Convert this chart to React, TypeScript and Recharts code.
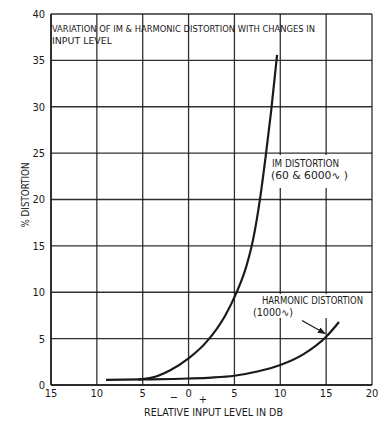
import React from 'react';
import { LineChart, Line, XAxis, YAxis, CartesianGrid } from 'recharts';

const FONT = "'DejaVu Sans Condensed', 'Liberation Sans Narrow', 'Arial Narrow', 'DejaVu Sans', sans-serif";

// IM distortion (60 & 6000~): relative input level (dB) vs % distortion
const imLevel = [-5.5, -4, -2, 0, 2, 4, 5.2, 6.3, 7.1, 7.75, 8.4, 9.0, 9.65];
const imPct = [0.6, 0.8, 1.6, 2.87, 4.7, 7.5, 9.9, 12.8, 16, 19.8, 24.6, 29.5, 35.6];

// Harmonic distortion (1000~)
const harmLevel = [-9, -5, 0, 2.5, 5, 7.5, 10, 12.5, 15, 16.4];
const harmPct = [0.55, 0.6, 0.7, 0.8, 1.0, 1.45, 2.15, 3.3, 5.2, 6.8];

const xTicks = [-15, -10, -5, 0, 5, 10, 15, 20];
const yTicks = [0, 5, 10, 15, 20, 25, 30, 35, 40];

const imData = imLevel.map((x, i) => ({ x, y: imPct[i] }));
const harmData = harmLevel.map((x, i) => ({ x, y: harmPct[i] }));

const INK = '#1a1a1a';

export default function App() {
  return (
    <div style={{ position: 'absolute', left: 0, top: 0, width: 387, height: 424, background: '#fff' }}>
      <LineChart
        width={387}
        height={424}
        margin={{ top: 14, right: 15, left: 0, bottom: 0 }}
        style={{ position: 'absolute', left: 0, top: 0 }}
      >
        <CartesianGrid stroke={INK} strokeWidth={1.3} strokeOpacity={0.9} />
        <XAxis
          type="number"
          dataKey="x"
          domain={[-15, 20]}
          ticks={xTicks}
          interval={0}
          allowDataOverflow
          height={39}
          axisLine={{ stroke: INK, strokeWidth: 1.5 }}
          tickLine={false}
          tickSize={4}
          tickMargin={0}
          tickFormatter={(v: number) => String(Math.abs(v))}
          tick={{ fontSize: 11, fill: INK, fontFamily: FONT }}
        />
        <YAxis
          type="number"
          dataKey="y"
          domain={[0, 40]}
          ticks={yTicks}
          interval={0}
          allowDataOverflow
          width={51}
          axisLine={{ stroke: INK, strokeWidth: 1.5 }}
          tickLine={false}
          tickSize={4}
          tickMargin={2}
          tick={{ fontSize: 11, fill: INK, fontFamily: FONT }}
        />
        <Line
          data={imData}
          dataKey="y"
          type="monotone"
          stroke={INK}
          strokeWidth={2.2}
          dot={false}
          isAnimationActive={false}
        />
        <Line
          data={harmData}
          dataKey="y"
          type="monotone"
          stroke={INK}
          strokeWidth={2.2}
          dot={false}
          isAnimationActive={false}
        />
      </LineChart>
      <svg
        width={387}
        height={424}
        style={{ position: 'absolute', left: 0, top: 0, pointerEvents: 'none' }}
        fontFamily={FONT}
        fill={INK}
      >
        <defs>
          <marker id="ah" markerWidth="8" markerHeight="6" refX="7" refY="3" orient="auto" markerUnits="userSpaceOnUse">
            <path d="M0,0 L8,3 L0,6 Z" fill={INK} />
          </marker>
        </defs>
        <text x={52} y={32} fontSize={9.5} textLength={263} lengthAdjust="spacingAndGlyphs">
          VARIATION OF IM &amp; HARMONIC DISTORTION WITH CHANGES IN
        </text>
        <text x={52} y={43.5} fontSize={9.5} textLength={60} lengthAdjust="spacingAndGlyphs">
          INPUT LEVEL
        </text>
        <rect x={268} y={155} width={84} height={33} fill="#fff" />
        <text x={272} y={167} fontSize={10} textLength={67} lengthAdjust="spacingAndGlyphs">
          IM DISTORTION
        </text>
        <text x={271} y={179} fontSize={10} textLength={77} lengthAdjust="spacingAndGlyphs">
          (60 &amp; 6000∿ )
        </text>
        <rect x={250} y={294} width={116} height={24} fill="#fff" />
        <text x={262} y={303.5} fontSize={10} textLength={101} lengthAdjust="spacingAndGlyphs">
          HARMONIC DISTORTION
        </text>
        <text x={253} y={316} fontSize={10} textLength={40} lengthAdjust="spacingAndGlyphs">
          (1000∿)
        </text>
        <line x1={302} y1={320.5} x2={325} y2={333.5} stroke={INK} strokeWidth={1.3} markerEnd="url(#ah)" />
        <text x={174} y={401} fontSize={11} textAnchor="middle">−</text>
        <text x={203} y={402.5} fontSize={11} textAnchor="middle">+</text>
        <text x={213.5} y={415.5} fontSize={10} textAnchor="middle" textLength={139} lengthAdjust="spacingAndGlyphs">
          RELATIVE INPUT LEVEL IN DB
        </text>
        <text
          x={29}
          y={195}
          fontSize={10}
          textAnchor="middle"
          transform="rotate(-90 29 195)"
          textLength={65}
          lengthAdjust="spacingAndGlyphs"
        >
          % DISTORTION
        </text>
      </svg>
    </div>
  );
}
